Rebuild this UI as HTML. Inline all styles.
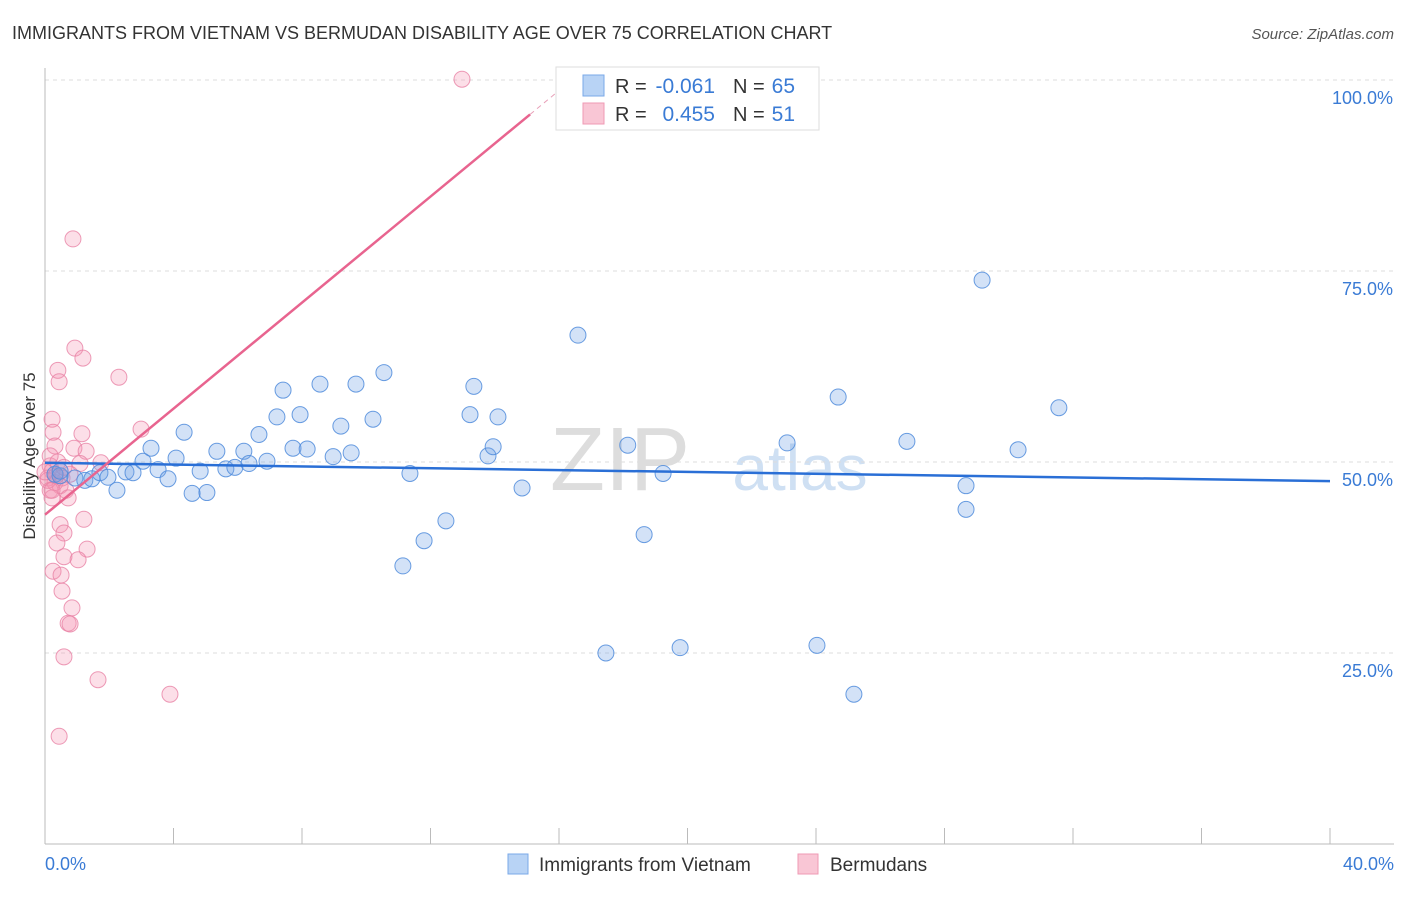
<!DOCTYPE html>
<html><head><meta charset="utf-8"><style>
body{margin:0;background:#fff;font-family:"Liberation Sans",sans-serif;}
svg text{font-family:"Liberation Sans",sans-serif;}
</style></head><body>
<svg id="chart" width="1406" height="892" xmlns="http://www.w3.org/2000/svg">
<text x="12" y="39" font-size="18" fill="#333">IMMIGRANTS FROM VIETNAM VS BERMUDAN DISABILITY AGE OVER 75 CORRELATION CHART</text>
<text x="1394" y="39" font-size="15" fill="#555" font-style="italic" text-anchor="end">Source: ZipAtlas.com</text>
<text x="620" y="490" font-size="90" fill="#ddd" font-family="Liberation Serif" text-anchor="middle">ZIP</text>
<text x="800" y="490" font-size="64" fill="#cfe0f3" text-anchor="middle">atlas</text>
<g id="grid"></g>
<g id="axes"></g>
<g id="marks"></g>
<text x="35" y="456" font-size="17" fill="#333" text-anchor="middle" transform="rotate(-90 35 456)">Disability Age Over 75</text>
<text x="45" y="870" font-size="18" fill="#3a7bd5">0.0%</text>
<text x="1394" y="870" font-size="18" fill="#3a7bd5" text-anchor="end">40.0%</text>
<g>
<rect x="556" y="67" width="263" height="63" fill="#fff" stroke="#ddd"/>
<rect x="583" y="75" width="21" height="21" fill="#b8d3f5" stroke="#7aa8e8"/>
<rect x="583" y="103" width="21" height="21" fill="#f9c6d5" stroke="#ef9ab4"/>
<text x="615" y="93" font-size="20" fill="#333">R =</text>
<text x="715" y="93" font-size="21" fill="#3a7bd5" text-anchor="end">-0.061</text>
<text x="733" y="93" font-size="20" fill="#333">N =</text>
<text x="795" y="93" font-size="21" fill="#3a7bd5" text-anchor="end">65</text>
<text x="615" y="121" font-size="20" fill="#333">R =</text>
<text x="715" y="121" font-size="21" fill="#3a7bd5" text-anchor="end">0.455</text>
<text x="733" y="121" font-size="20" fill="#333">N =</text>
<text x="795" y="121" font-size="21" fill="#3a7bd5" text-anchor="end">51</text>
</g>
<g>
<rect x="508" y="854" width="20" height="20" fill="#b8d3f5" stroke="#7aa8e8"/>
<text x="539" y="871" font-size="19" fill="#333">Immigrants from Vietnam</text>
<rect x="798" y="854" width="20" height="20" fill="#f9c6d5" stroke="#ef9ab4"/>
<text x="830" y="871" font-size="19" fill="#333">Bermudans</text>
</g>
</svg>
<script>
const yTicks=[25,50,75,100];
const yTickLabels=["25.0%","50.0%","75.0%","100.0%"];
const xTicks=[0,4,8,12,16,20,24,28,32,36,40];
const blueX=[0.31,0.47,0.93,1.24,1.46,1.71,1.96,2.24,2.52,2.74,3.05,3.3,3.52,3.83,4.08,4.33,4.58,4.83,5.04,5.35,5.63,5.91,6.19,6.35,6.66,6.91,7.22,7.41,7.72,7.94,8.16,8.56,8.97,9.21,9.53,9.68,10.21,10.55,11.14,11.36,11.8,12.48,13.23,13.35,13.79,13.95,14.1,14.85,16.59,17.46,18.14,18.65,19.24,19.77,23.1,24.03,24.69,25.18,26.83,28.67,28.67,29.17,30.29,31.56,0.47];
const blueY=[48.4,48.2,47.9,47.6,47.8,48.6,48.0,46.3,48.7,48.6,50.1,51.8,49.0,47.8,50.5,53.9,45.9,48.8,46.0,51.4,49.1,49.3,51.4,49.8,53.6,50.1,55.9,59.4,51.8,56.2,51.7,60.2,50.7,54.7,51.2,60.2,55.6,61.7,36.4,48.5,39.7,42.3,56.2,59.9,50.8,52.0,55.9,46.6,66.6,25.0,52.2,40.5,48.5,25.7,52.5,26.0,58.5,19.6,52.7,46.9,43.8,73.8,51.6,57.1,48.8];
const pinkX=[12.98,0.87,0.93,1.18,0.4,0.44,2.3,0.22,2.99,0.25,1.15,0.31,0.9,1.28,1.74,1.09,0.16,0.22,0.09,0.31,0.47,0.53,0.65,0.16,0.22,0.72,1.21,0.47,0.59,0.37,1.31,0.59,1.03,0.25,0.5,0.53,0.84,0.72,0.78,0.59,1.65,3.89,0.44,0.09,0.34,0.0,0.4,0.78,0.59,0.22,0.16];
const pinkY=[100.1,79.2,64.9,63.6,62.0,60.5,61.1,55.6,54.3,53.9,53.7,52.1,51.8,51.4,49.9,49.8,49.5,48.8,47.9,47.3,46.9,47.9,46.3,46.3,45.3,45.3,42.5,41.8,40.7,39.4,38.6,37.6,37.2,35.7,35.2,33.1,30.9,28.9,28.8,24.5,21.5,19.6,14.1,47.6,48.2,48.7,50.0,48.4,49.3,46.3,50.8];
const blueTrend=[49.9,47.5];
const pinkIntercept=43.1, pinkSlope=3.47, pinkSolidEnd=15.1;
const X0=45,X1=1330,Y0=844,Y100=80;
const sx=v=>X0+(X1-X0)*v/40;
const sy=v=>Y0-(Y0-Y100)*v/100;
const NS="http://www.w3.org/2000/svg";
function mk(tag,attrs,parent){const e=document.createElementNS(NS,tag);for(const k in attrs)e.setAttribute(k,attrs[k]);parent.appendChild(e);return e;}
const grid=document.getElementById('grid'),axes=document.getElementById('axes'),marks=document.getElementById('marks');
yTicks.forEach((t,i)=>{
 const l=mk('line',{x1:X0,x2:1394,y1:sy(t),y2:sy(t),stroke:'#ddd','stroke-dasharray':'4,4'},grid);
 
 
 const tx=mk('text',{x:1393,y:sy(t)+24,'font-size':18,fill:'#3a7bd5','text-anchor':'end'},grid);
 tx.textContent=yTickLabels[i];
 
 
});
const ya=mk('line',{x1:X0,x2:X0,y1:68,y2:Y0,stroke:'#bbb'},axes);


const xa=mk('line',{x1:X0,x2:1394,y1:Y0,y2:Y0,stroke:'#bbb'},axes);


xTicks.forEach(t=>{
 const l=mk('line',{x1:sx(t),x2:sx(t),y1:828,y2:Y0,stroke:'#bbb'},axes);
 
 
});
pinkX.forEach((x,i)=>{
 const c=mk('circle',{cx:sx(x),cy:sy(pinkY[i]),r:8,fill:'rgba(244,150,180,0.3)',stroke:'rgba(232,130,165,0.8)','stroke-width':1},marks);
 
 
});
blueX.forEach((x,i)=>{
 const c=mk('circle',{cx:sx(x),cy:sy(blueY[i]),r:8,fill:'rgba(110,160,230,0.3)',stroke:'rgba(80,140,220,0.85)','stroke-width':1},marks);
 
 
});
const bt=mk('line',{x1:sx(0),y1:sy(blueTrend[0]),x2:sx(40),y2:sy(blueTrend[1]),stroke:'#2a6fd6','stroke-width':2.5},marks);


const pt=mk('line',{x1:sx(0),y1:sy(pinkIntercept),x2:sx(pinkSolidEnd),y2:sy(pinkIntercept+pinkSlope*pinkSolidEnd),stroke:'#e8648f','stroke-width':2.5},marks);


const xe=(100-pinkIntercept)/pinkSlope;
const pd=mk('line',{x1:sx(pinkSolidEnd),y1:sy(pinkIntercept+pinkSlope*pinkSolidEnd),x2:sx(xe),y2:sy(100),stroke:'#e8a0b8','stroke-width':1,'stroke-dasharray':'5,4'},marks);


</script>
</body></html>
